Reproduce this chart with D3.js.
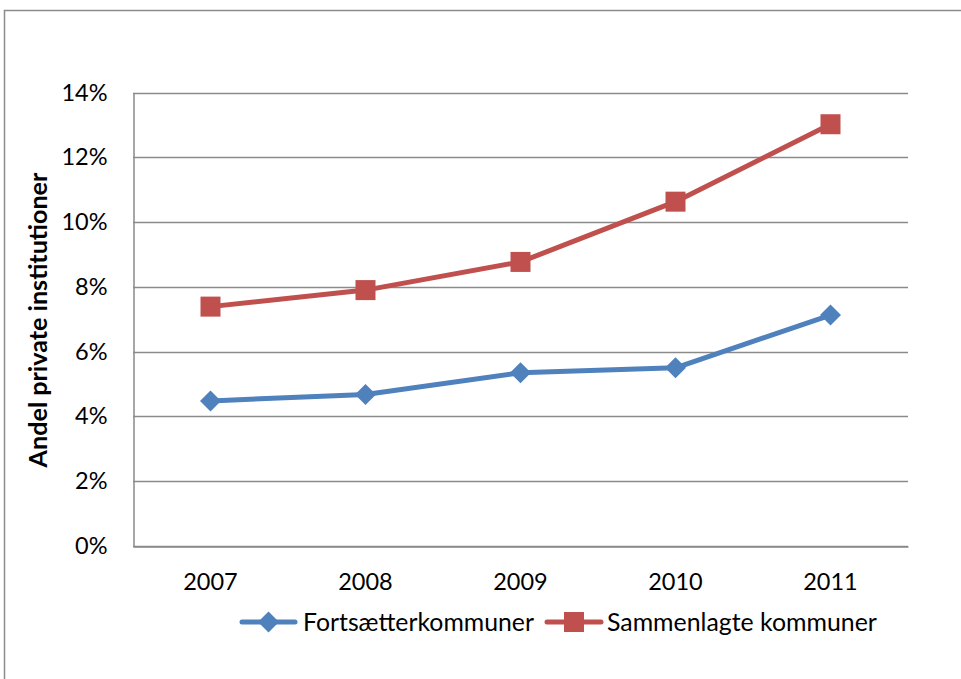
<!DOCTYPE html>
<html>
<head>
<meta charset="utf-8">
<script src="https://cdn.jsdelivr.net/npm/d3@7"></script>
<style>
  html, body { margin: 0; padding: 0; background: #fff; }
  svg { display: block; font-family: Lato, "Open Sans", sans-serif; }
</style>
</head>
<body>
<svg id="chart" width="961" height="679"></svg>
<script>
const categories = ["2007", "2008", "2009", "2010", "2011"];
const fortsaetter = [4.48, 4.68, 5.35, 5.50, 7.13];
const sammenlagte = [7.39, 7.90, 8.77, 10.63, 13.02];
const seriesNames = ["Fortsætterkommuner", "Sammenlagte kommuner"];
const yTicks = [0, 2, 4, 6, 8, 10, 12, 14];
const yTitle = "Andel private institutioner";

const colors = ["#4F81BD", "#C0504D"];
const svg = d3.select("#chart");

// scale a text's font size so that its rendered width matches a target width
function fit(sel, target) {
  const fs = parseFloat(sel.attr("font-size"));
  const w = sel.node().getComputedTextLength();
  if (w > 0) sel.attr("font-size", (fs * target / w).toFixed(2));
}

// outer chart border
svg.append("rect").attr("x", 4.5).attr("y", 10.5).attr("width", 1000).attr("height", 1000)
  .attr("fill", "none").attr("stroke", "#8c8c8c").attr("stroke-width", 1.5);

const plot = { left: 133, right: 908, top: 92.5, bottom: 546 };
const x = d3.scaleBand().domain(categories).range([plot.left, plot.right]);
const y = d3.scaleLinear().domain([0, 14]).range([plot.bottom, plot.top]);

// gridlines
svg.append("g").selectAll("line").data(yTicks).join("line")
  .attr("x1", plot.left).attr("x2", plot.right)
  .attr("y1", d => Math.round(y(d)) + 0.5).attr("y2", d => Math.round(y(d)) + 0.5)
  .attr("stroke", "#8a8a8a").attr("stroke-width", 1.5);

const tickFont = 23.5;
// y axis
const yAxis = d3.axisLeft(y).tickValues(yTicks).tickFormat(d => d + "%").tickSize(0).tickPadding(26);
const gy = svg.append("g").attr("transform", `translate(${plot.left + 0.5},0)`).call(yAxis);
gy.select(".domain").attr("stroke", "#8a8a8a").attr("stroke-width", 1.5);
gy.selectAll("text").attr("font-size", tickFont).attr("fill", "#000").attr("font-family", "Lato");

// x axis
const xAxis = d3.axisBottom(x).tickSize(0).tickPadding(27);
const gx = svg.append("g").attr("transform", `translate(0,${Math.round(plot.bottom) + 0.5})`).call(xAxis);
gx.select(".domain").attr("stroke", "#8a8a8a").attr("stroke-width", 1.5);
gx.selectAll("text").attr("font-size", tickFont).attr("fill", "#000").attr("font-family", "Lato");

// y title
const title = svg.append("text").attr("transform", `translate(47,320) rotate(-90)`)
  .attr("text-anchor", "middle").attr("font-size", 21).attr("font-weight", "bold")
  .attr("font-family", "Lato").attr("fill", "#000").text(yTitle);
fit(title, 295);

const cx = d => x(d) + x.bandwidth() / 2;
const line = d3.line().x(d => cx(d.c)).y(d => y(d.v));
const allSeries = [fortsaetter, sammenlagte].map(arr => arr.map((v, i) => ({ c: categories[i], v })));

const diamond = s => `M0,${-s}L${s},0L0,${s}L${-s},0Z`;
function marker(g, idx, px, py) {
  if (idx === 0) {
    g.append("path").attr("d", diamond(10.5)).attr("transform", `translate(${px},${py})`).attr("fill", colors[0]);
  } else {
    g.append("rect").attr("x", px - 10).attr("y", py - 10).attr("width", 20).attr("height", 20).attr("fill", colors[1]);
  }
}

allSeries.forEach((data, idx) => {
  const g = svg.append("g");
  g.append("path").datum(data).attr("d", line).attr("fill", "none")
    .attr("stroke", colors[idx]).attr("stroke-width", 5).attr("stroke-linejoin", "round");
  data.forEach(d => marker(g, idx, cx(d.c), y(d.v)));
});

// legend
const legendItems = [
  { x1: 242, x2: 295, tx: 303, w: 231 },
  { x1: 547, x2: 601, tx: 607, w: 270 }
];
const ly = 622;
legendItems.forEach((it, idx) => {
  const g = svg.append("g");
  g.append("line").attr("x1", it.x1).attr("x2", it.x2).attr("y1", ly).attr("y2", ly)
    .attr("stroke", colors[idx]).attr("stroke-width", 5).attr("stroke-linecap", "round");
  marker(g, idx, (it.x1 + it.x2) / 2, ly);
  const t = g.append("text").attr("x", it.tx).attr("y", ly).attr("dy", "0.35em")
    .attr("font-size", 22).attr("font-family", "Lato").attr("fill", "#000").text(seriesNames[idx]);
  fit(t, it.w);
});
</script>
</body>
</html>
